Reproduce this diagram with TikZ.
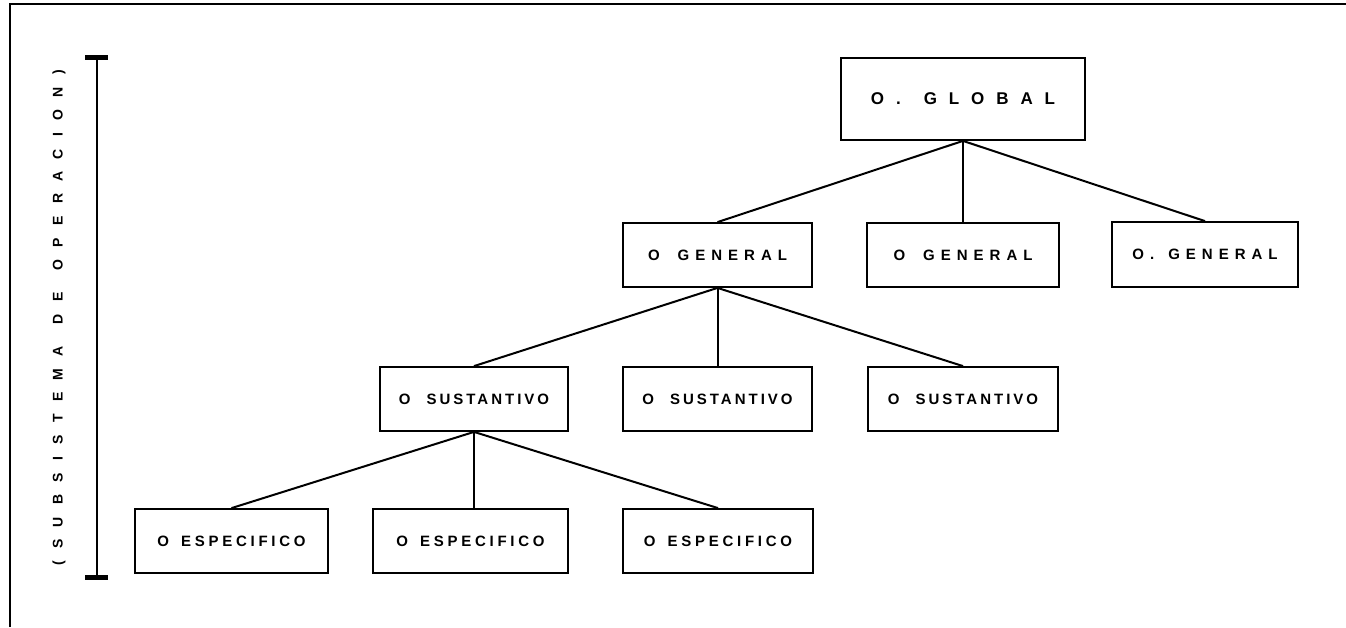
\documentclass[tikz,border=0pt]{standalone}
\usepackage{fontspec}
\setmainfont{Liberation Sans}
% lettering styles (spread bold capitals)
\newfontfamily\globfont{Liberation Sans Bold}[LetterSpace=70]
\newfontfamily\genfont{Liberation Sans Bold}[LetterSpace=40]
\newfontfamily\susfont{Liberation Sans Bold}[LetterSpace=20]
\newfontfamily\espfont{Liberation Sans Bold}[LetterSpace=25]
\newfontfamily\sidefont{Liberation Sans Bold}[LetterSpace=88]
\begin{document}
\begin{tikzpicture}[x=1pt,y=-1pt]
\useasboundingbox (0,0) rectangle (1346,627);
\tikzset{
  box/.style={draw, line width=1.8pt, inner sep=0pt},
  link/.style={line width=2pt},
  gentext/.style={font=\genfont\fontsize{15}{17}\selectfont},
  sustext/.style={font=\susfont\fontsize{15}{17}\selectfont},
  esptext/.style={font=\espfont\fontsize{15}{17}\selectfont},
}
% outer frame (top and left edges)
\coordinate (fc) at (10,4);
\coordinate (fr) at (1346,4);
\coordinate (fb) at (10,627);
\draw[line width=1.8pt] (fb) -- (fc) -- (fr);

% side label with its bracket
\node[rotate=90, font=\sidefont\fontsize{14}{16}\selectfont] (side) at (59,318)
  {(SUBSISTEMA\hspace{22pt}DE\hspace{22pt}OPERACION)};
\coordinate (bt) at (97,57);
\coordinate (bb) at (97,577);
\draw[line width=1.8pt] (bt) -- (bb);
\draw[line width=5pt] ([xshift=-12pt]bt) -- ([xshift=11pt]bt);
\draw[line width=5pt] ([xshift=-12pt]bb) -- ([xshift=11pt]bb);

% hierarchy of objectives
\node[box, minimum width=244pt, minimum height=82pt, font=\globfont\fontsize{17}{19}\selectfont] (glob) at (963,99)
  {O.\hspace{23pt}GLOBAL};

\node[box, gentext, minimum width=189pt, minimum height=64pt] (gen1) at (717.5,255) {O\hspace{18pt}GENERAL};
\node[box, gentext, minimum width=192pt, minimum height=64pt] (gen2) at (963,255) {O\hspace{18pt}GENERAL};
\node[box, gentext, minimum width=186pt, minimum height=65pt] (gen3) at (1205,254.5) {O.\hspace{14pt}GENERAL};

\node[box, sustext, minimum width=188pt, minimum height=64pt] (sus1) at (474,399) {O\hspace{16pt}SUSTANTIVO};
\node[box, sustext, minimum width=189pt, minimum height=64pt] (sus2) at (717.5,399) {O\hspace{16pt}SUSTANTIVO};
\node[box, sustext, minimum width=190pt, minimum height=64pt] (sus3) at (963,399) {O\hspace{16pt}SUSTANTIVO};

\node[box, esptext, minimum width=193pt, minimum height=64pt] (esp1) at (231.5,541) {O\hspace{12pt}ESPECIFICO};
\node[box, esptext, minimum width=195pt, minimum height=64pt] (esp2) at (470.5,541) {O\hspace{12pt}ESPECIFICO};
\node[box, esptext, minimum width=190pt, minimum height=64pt] (esp3) at (718,541) {O\hspace{12pt}ESPECIFICO};

% connectors
\draw[link] (glob.south) -- (gen1.north);
\draw[line width=1.3pt] (glob.south) -- (gen2.north);
\draw[link] (glob.south) -- (gen3.north);

\draw[link] (gen1.south) -- (sus1.north);
\draw[link] (gen1.south) -- (sus2.north);
\draw[link] (gen1.south) -- (sus3.north);

\draw[link] (sus1.south) -- (esp1.north);
\draw[link] (sus1.south) -- (sus1.south |- esp2.north);
\draw[link] (sus1.south) -- (esp3.north);
\end{tikzpicture}
\end{document}
